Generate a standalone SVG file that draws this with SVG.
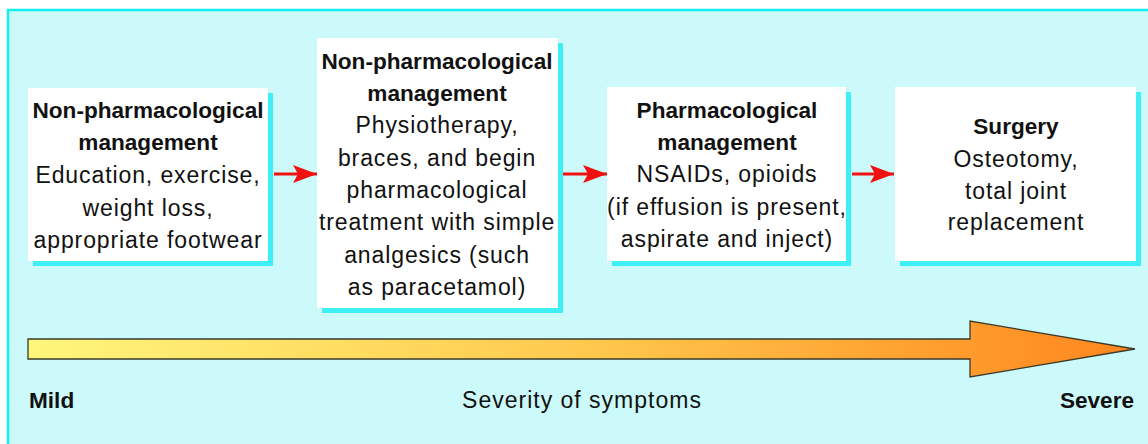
<svg xmlns="http://www.w3.org/2000/svg" width="1148" height="444" viewBox="0 0 1148 444">
<defs>
<linearGradient id="sev" x1="28" y1="0" x2="1135" y2="0" gradientUnits="userSpaceOnUse">
<stop offset="0" stop-color="#FFF67C"/>
<stop offset="0.5" stop-color="#FFC94E"/>
<stop offset="1" stop-color="#FF861E"/>
</linearGradient>
<marker id="ah" markerWidth="26" markerHeight="20" refX="24" refY="9" orient="auto" markerUnits="userSpaceOnUse">
<path d="M0,0 L24,9 L0,18 L5,9 Z" fill="#F01010"/>
</marker>
<style>
.shadow{fill:#3EF0F5}
.box{fill:#FFFFFF}
text{font-family:"Liberation Sans",Arial,sans-serif;font-size:23px;fill:#111;text-anchor:middle}
.b{font-weight:bold;font-size:22.6px;letter-spacing:0px}
.r{letter-spacing:0.9px}
.conn{stroke:#F01010;stroke-width:3;fill:none;marker-end:url(#ah)}
</style>
</defs>
<rect x="0" y="0" width="1148" height="444" fill="#FFFFFF"/>
<rect x="8" y="10" width="1160" height="450" fill="#CCFAFA" stroke="#10F0F0" stroke-width="2.5"/>

<g id="node1">
<rect class="shadow" x="33" y="93" width="240" height="173"/>
<rect class="box" x="28" y="88" width="240" height="173"/>
<text class="b" x="148" y="118">Non-pharmacological</text>
<text class="b" x="148" y="150">management</text>
<text class="r" x="148" y="183">Education, exercise,</text>
<text class="r" x="148" y="216">weight loss,</text>
<text class="r" x="148" y="248">appropriate footwear</text>
</g>

<g id="node2">
<rect class="shadow" x="322" y="43" width="241" height="270"/>
<rect class="box" x="317" y="38" width="241" height="270"/>
<text class="b" x="437" y="69">Non-pharmacological</text>
<text class="b" x="437" y="101">management</text>
<text class="r" x="437" y="133">Physiotherapy,</text>
<text class="r" x="437" y="166">braces, and begin</text>
<text class="r" x="437" y="198">pharmacological</text>
<text class="r" x="437" y="230">treatment with simple</text>
<text class="r" x="437" y="263">analgesics (such</text>
<text class="r" x="437" y="295">as paracetamol)</text>
</g>

<g id="node3">
<rect class="shadow" x="612" y="92" width="239" height="174"/>
<rect class="box" x="607" y="87" width="239" height="174"/>
<text class="b" x="727" y="118">Pharmacological</text>
<text class="b" x="727" y="150">management</text>
<text class="r" x="727" y="182">NSAIDs, opioids</text>
<text class="r" x="727" y="215">(if effusion is present,</text>
<text class="r" x="727" y="247">aspirate and inject)</text>
</g>

<g id="node4">
<rect class="shadow" x="900" y="92" width="241" height="174"/>
<rect class="box" x="895" y="87" width="241" height="174"/>
<text class="b" x="1016" y="134">Surgery</text>
<text class="r" x="1016" y="167">Osteotomy,</text>
<text class="r" x="1016" y="199">total joint</text>
<text class="r" x="1016" y="230">replacement</text>
</g>

<g id="connectors">
<line class="conn" x1="274" y1="174" x2="317" y2="174"/>
<line class="conn" x1="563" y1="174" x2="607" y2="174"/>
<line class="conn" x1="852" y1="174" x2="894" y2="174"/>
</g>

<g id="severity">
<path d="M28,339 L970,339 L970,321 L1135,349 L970,377 L970,359 L28,359 Z" fill="url(#sev)" stroke="#3A3A2A" stroke-width="1.3"/>
<text class="b" x="29" y="408" style="text-anchor:start">Mild</text>
<text class="r" x="582" y="408" style="letter-spacing:1px">Severity of symptoms</text>
<text class="b" x="1134" y="408" style="text-anchor:end">Severe</text>
</g>
</svg>
